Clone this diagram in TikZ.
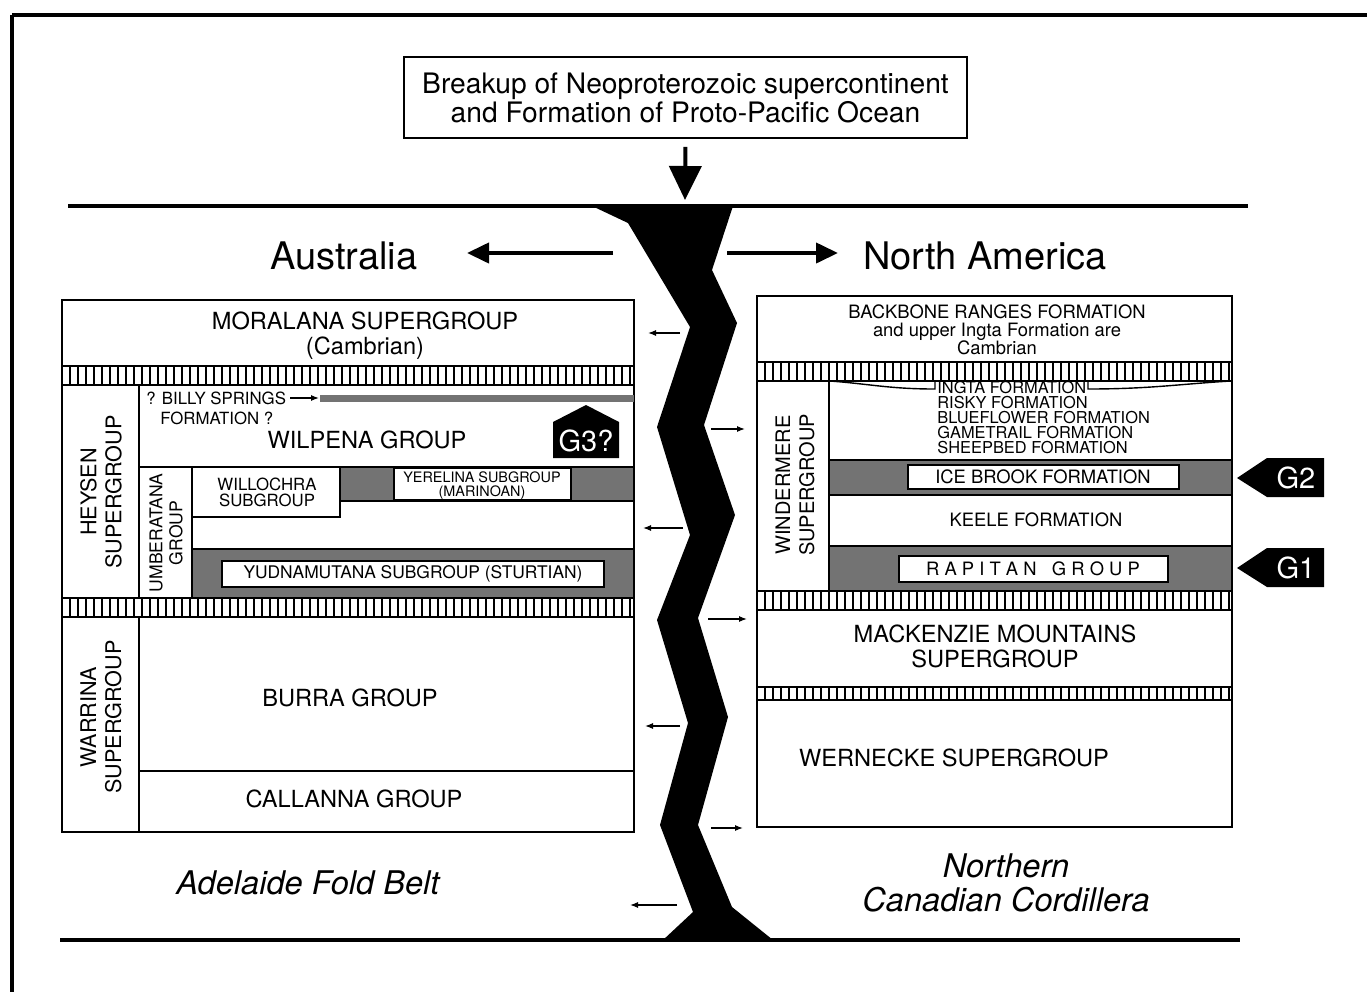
\documentclass[tikz,border=0pt]{standalone}
\usepackage{fontspec}
\setmainfont{TeX Gyre Heros}
\usetikzlibrary{arrows.meta}

\begin{document}
\begin{tikzpicture}[
    x=0.5pt, y=-0.5pt,
    every node/.style={inner sep=0pt, align=center},
    unit/.style={draw, line width=0.7pt},
    band/.style={draw, line width=0.7pt, fill=black!55},
    whitebox/.style={draw, line width=0.7pt, fill=white},
    bigcap/.style={font=\fontsize{11.8}{12.5}\selectfont},
    midcap/.style={font=\fontsize{9.2}{9}\selectfont},
    smallcap/.style={font=\fontsize{8.4}{8}\selectfont},
    tinycap/.style={font=\fontsize{7.2}{7}\selectfont},
    sidelabel/.style={rotate=90, font=\fontsize{10.8}{12.5}\selectfont},
    continent/.style={font=\fontsize{19}{22}\selectfont},
    region/.style={font=\fontsize{16.3}{17}\selectfont\itshape},
    glacial/.style={fill=black},
    glaciallabel/.style={text=white, font=\fontsize{14.5}{14}\selectfont},
    drift/.style={-{Latex[length=4pt,width=3pt]}, line width=0.6pt},
    spread/.style={-{Triangle[length=11pt,width=10pt]}, line width=2pt},
    groundline/.style={line width=2.2pt},
    hatchrule/.style={line width=1.1pt},
    hatchtick/.style={line width=0.75pt}
  ]
  \useasboundingbox (0,0) rectangle (1367,992);

  % Rahmen.
  \draw[line width=2.4pt] (12,15) -- (1367,15);
  \draw[line width=1.8pt] (12,15) -- (12,992);

  % Ereignis oben.
  \node[draw, line width=0.8pt, minimum width=281.5pt, minimum height=40.5pt,
        font=\fontsize{14.1}{14.5}\selectfont] (breakup) at (685.5,97.5)
        {Breakup of Neoproterozoic supercontinent\\and Formation of Proto-Pacific Ocean};
  \coordinate (rifttop) at (685,200);
  \draw[-{Triangle[length=17pt,width=16pt]}, line width=2pt, shorten <=4pt] (breakup.south) -- (rifttop);

  % Grenzlinien und Rift.
  \draw[groundline] (68,206) -- (1248,206);
  \draw[groundline] (60,940) -- (1240,940);
  \fill (592,206) -- (628,223) -- (690,327) -- (657,427) -- (690,535) -- (657,620)
        -- (688,723) -- (660,825) -- (693,912) -- (663,940) -- (773,940) -- (732,907)
        -- (698,825) -- (728,717) -- (698,618) -- (735,515) -- (704,425) -- (737,323)
        -- (712,270) -- (733,206) -- cycle;

  % Kontinente.
  \node[continent] (australia) at (344,256) {Australia};
  \node[continent] (namerica) at (985,256) {North America};
  \coordinate (ausW) at (467,253);
  \coordinate (ausE) at (613,253);
  \coordinate (amW) at (727,253);
  \coordinate (amE) at (838,253);
  \draw[spread] (ausE) -- (ausW);
  \draw[spread] (amW) -- (amE);

  % Adelaide Fold Belt.
  \draw[unit] (62,300) rectangle (634,366);
  \draw[unit] (62,385) rectangle (634,598);
  \draw[unit] (139,385) -- (139,598);
  \fill[black!55] (320,395) rectangle (634,402);
  \draw[unit] (139,467) -- (634,467);
  \draw[unit] (192,467) -- (192,598);
  \draw[unit] (192,467) rectangle (340,517);
  \draw[band] (340,467) rectangle (634,501);
  \draw[whitebox] (394,468) rectangle (571,500);
  \draw[band] (192,549) rectangle (634,598);
  \draw[whitebox] (222,561) rectangle (604,587);
  \draw[unit] (62,617) rectangle (634,832);
  \draw[unit] (139,617) -- (139,832);
  \draw[unit] (139,771) -- (634,771);
  \fill[glacial] (553,458) -- (553,422) -- (586,405) -- (619,422) -- (619,458) -- cycle;

  \node[bigcap] (moralana) at (365,336) {MORALANA SUPERGROUP\\(Cambrian)};
  \node[sidelabel] (heysen) at (101,492) {HEYSEN\\SUPERGROUP};
  \node[sidelabel, font=\fontsize{8.8}{10}\selectfont] (umberatana) at (166,533) {UMBERATANA\\GROUP};
  \node[sidelabel] (warrina) at (101,717) {WARRINA\\SUPERGROUP};
  \node[smallcap, anchor=west] (billy) at (146,398) {? BILLY SPRINGS};
  \node[smallcap, anchor=west] (billyq) at (160,418) {FORMATION ?};
  \coordinate (billybar) at (319,398);
  \draw[drift, shorten <=2pt] (billy.east) -- (billybar);
  \node[bigcap] (wilpena) at (367,440) {WILPENA GROUP};
  \node[glaciallabel] (gthree) at (586,441) {G3?};
  \node[smallcap] (willochra) at (267,492) {WILLOCHRA\\SUBGROUP};
  \node[tinycap] (yerelina) at (482,486) {YERELINA SUBGROUP\\(MARINOAN)};
  \node[font=\fontsize{8.7}{9}\selectfont] (yudnamutana) at (413,574) {YUDNAMUTANA SUBGROUP (STURTIAN)};
  \node[bigcap] (burra) at (350,698) {BURRA GROUP};
  \node[bigcap] (callanna) at (354,799) {CALLANNA GROUP};

  % Northern Canadian Cordillera.
  \draw[unit] (757,296) rectangle (1232,362);
  \draw[unit] (757,381) rectangle (1232,591);
  \draw[unit] (829,381) -- (829,591);
  \draw[band] (829,460) rectangle (1232,495);
  \draw[whitebox] (908,465) rectangle (1179,489);
  \draw[band] (829,546) rectangle (1232,591);
  \draw[whitebox] (899,556) rectangle (1168,582);
  \draw[unit] (757,610) rectangle (1232,687);
  \draw[unit] (757,700) rectangle (1232,827);
  \draw[unit] (830,381) .. controls (870,384) and (890,389) .. (935,389) -- (935,382);
  \draw[unit] (1088,382) -- (1088,389) .. controls (1150,389) and (1180,384) .. (1231,381);
  \fill[glacial] (1237,478) -- (1267,458) -- (1324,458) -- (1324,497) -- (1267,497) -- cycle;
  \fill[glacial] (1237,568) -- (1267,548) -- (1324,548) -- (1324,587) -- (1267,587) -- cycle;

  \node[midcap] (backbone) at (997,330) {BACKBONE RANGES FORMATION\\and upper Ingta Formation are\\Cambrian};
  \node[sidelabel, font=\fontsize{10}{12}\selectfont] (windermere) at (795,485) {WINDERMERE\\SUPERGROUP};
  \node[font=\fontsize{8.2}{7.5}\selectfont, align=left, anchor=west] (ingta) at (937,418)
        {INGTA FORMATION\\RISKY FORMATION\\BLUEFLOWER FORMATION\\GAMETRAIL FORMATION\\SHEEPBED FORMATION};
  \node[midcap] (icebrook) at (1043,477) {ICE BROOK FORMATION};
  \node[midcap] (keele) at (1036,520) {KEELE FORMATION};
  \node[midcap] (rapitan) at (1033,569) {R\ A\ P\ I\ T\ A\ N\ \ \ G\ R\ O\ U\ P};
  \node[bigcap] (mackenzie) at (995,646) {MACKENZIE MOUNTAINS\\SUPERGROUP};
  \node[bigcap] (wernecke) at (954,758) {WERNECKE SUPERGROUP};
  \node[glaciallabel] (gtwo) at (1296,478) {G2};
  \node[glaciallabel] (gone) at (1296,568) {G1};

  % Hiatus-Baender.
  \foreach \xa/\xb/\ya/\yb in {62/634/366/385, 62/634/598/617, 757/1232/362/381,
                                757/1232/591/610, 757/1232/687/700} {
    \fill[white] (\xa,\ya) rectangle (\xb,\yb);
    \pgfmathtruncatemacro{\nticks}{(\xb-\xa)/8}
    \foreach \k in {1,...,\nticks}
      \draw[hatchtick] ({\xa+\k*8},\ya) -- ({\xa+\k*8},\yb);
    \draw[hatchtick] (\xa,\ya) -- (\xa,\yb) (\xb,\ya) -- (\xb,\yb);
    \draw[hatchrule] (\xa,\ya) -- (\xb,\ya) (\xa,\yb) -- (\xb,\yb);
  }

  % Driftpfeile.
  \foreach \n/\ya/\xa/\xb in {1/333/680/648, 2/528/683/643, 3/726/680/645, 4/905/677/630,
                              5/429/711/745, 6/619/708/747, 7/828/711/743} {
    \coordinate (drift\n a) at (\xa,\ya);
    \coordinate (drift\n b) at (\xb,\ya);
    \draw[drift] (drift\n a) -- (drift\n b);
  }

  % Regionen.
  \node[region] (adelaide) at (308,883) {Adelaide Fold Belt};
  \node[region] (cordillera) at (1006,883) {Northern\\Canadian Cordillera};
\end{tikzpicture}
\end{document}
